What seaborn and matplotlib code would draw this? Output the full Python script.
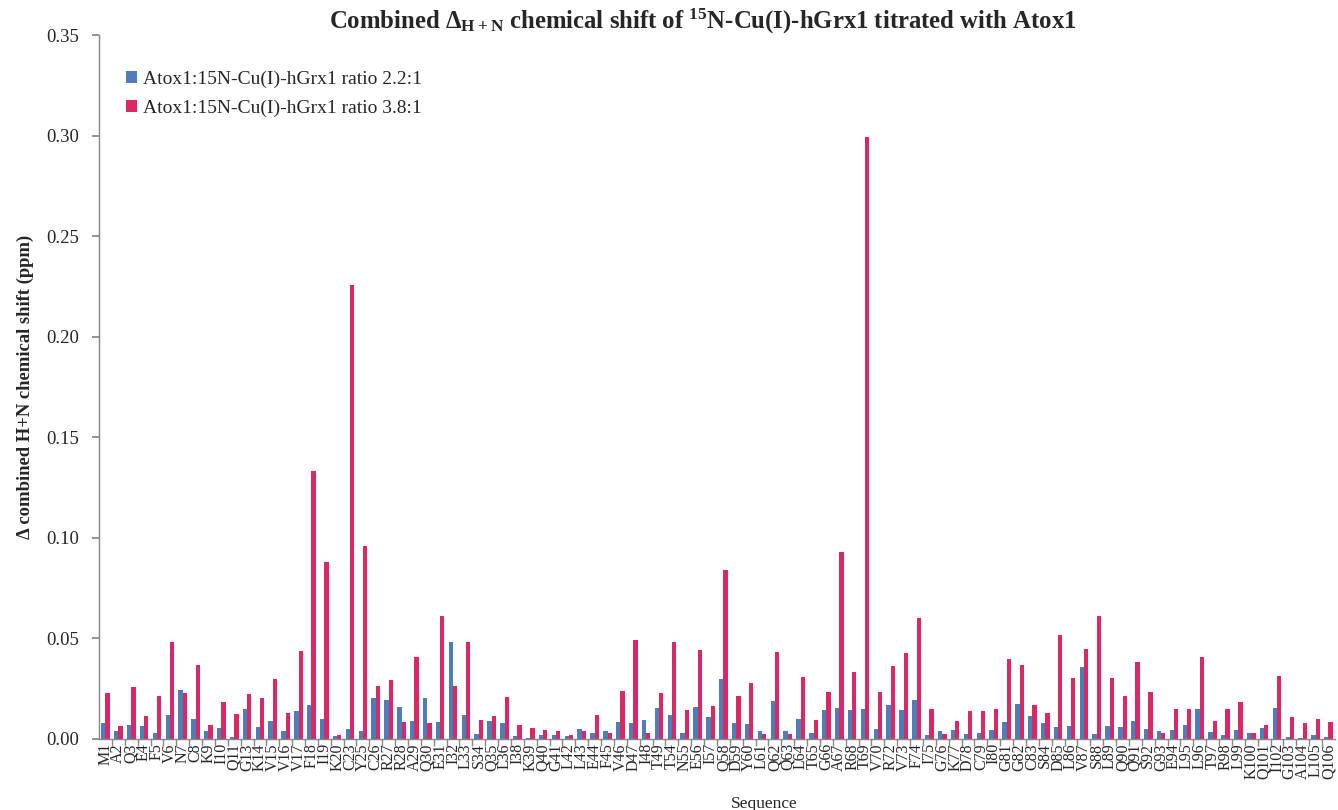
import matplotlib
matplotlib.use("Agg")
import matplotlib.pyplot as plt
import numpy as np
import pandas as pd
import seaborn as sns
from matplotlib.ticker import FixedLocator, FormatStrFormatter

residues = ["M1", "A2", "Q3", "E4", "F5", "V6", "N7", "C8", "K9", "I10",
            "Q11", "G13", "K14", "V15", "V16", "V17", "F18", "I19", "K20", "C23",
            "Y25", "C26", "R27", "R28", "A29", "Q30", "E31", "I32", "L33", "S34",
            "Q35", "L36", "I38", "K39", "Q40", "G41", "L42", "L43", "E44", "F45",
            "V46", "D47", "I48", "T49", "T54", "N55", "E56", "I57", "Q58", "D59",
            "Y60", "L61", "Q62", "Q63", "L64", "T65", "G66", "A67", "R68", "T69",
            "V70", "R72", "V73", "F74", "I75", "G76", "K77", "D78", "C79", "I80",
            "G81", "G82", "C83", "S84", "D85", "L86", "V87", "S88", "L89", "Q90",
            "Q91", "S92", "G93", "E94", "L95", "L96", "T97", "R98", "L99", "K100",
            "Q101", "I102", "G103", "A104", "L105", "Q106"]

ratio_2_2 = [0.0078, 0.0040, 0.0067, 0.0062, 0.0030, 0.0120, 0.0245, 0.0100, 0.0038, 0.0053,
             0.0010, 0.0148, 0.0060, 0.0090, 0.0040, 0.0140, 0.0170, 0.0100, 0.0015, 0.0050,
             0.0038, 0.0203, 0.0193, 0.0160, 0.0090, 0.0205, 0.0085, 0.0480, 0.0118, 0.0027,
             0.0087, 0.0080, 0.0015, 0.0005, 0.0018, 0.0020, 0.0015, 0.0050, 0.0030, 0.0040,
             0.0082, 0.0078, 0.0092, 0.0153, 0.0120, 0.0030, 0.0160, 0.0108, 0.0300, 0.0080,
             0.0075, 0.0038, 0.0190, 0.0038, 0.0100, 0.0032, 0.0143, 0.0152, 0.0145, 0.0150,
             0.0050, 0.0168, 0.0142, 0.0193, 0.0018, 0.0040, 0.0045, 0.0023, 0.0030, 0.0043,
             0.0085, 0.0172, 0.0115, 0.0078, 0.0060, 0.0065, 0.0358, 0.0027, 0.0065, 0.0057,
             0.0088, 0.0050, 0.0040, 0.0043, 0.0070, 0.0150, 0.0033, 0.0020, 0.0047, 0.0030,
             0.0053, 0.0153, 0.0010, 0.0005, 0.0020, 0.0012]

ratio_3_8 = [0.0228, 0.0065, 0.0260, 0.0113, 0.0215, 0.0483, 0.0228, 0.0370, 0.0067, 0.0185,
             0.0125, 0.0225, 0.0203, 0.0300, 0.0130, 0.0435, 0.1332, 0.0878, 0.0020, 0.2259,
             0.0960, 0.0263, 0.0293, 0.0082, 0.0407, 0.0078, 0.0610, 0.0265, 0.0483, 0.0095,
             0.0113, 0.0210, 0.0068, 0.0053, 0.0047, 0.0040, 0.0020, 0.0038, 0.0120, 0.0030,
             0.0238, 0.0493, 0.0028, 0.0227, 0.0483, 0.0143, 0.0440, 0.0165, 0.0842, 0.0213,
             0.0278, 0.0025, 0.0430, 0.0025, 0.0310, 0.0095, 0.0233, 0.0932, 0.0332, 0.2992,
             0.0235, 0.0365, 0.0427, 0.0600, 0.0150, 0.0025, 0.0090, 0.0140, 0.0138, 0.0150,
             0.0397, 0.0367, 0.0168, 0.0127, 0.0515, 0.0303, 0.0445, 0.0610, 0.0303, 0.0212,
             0.0385, 0.0235, 0.0032, 0.0150, 0.0150, 0.0408, 0.0090, 0.0150, 0.0183, 0.0030,
             0.0070, 0.0315, 0.0110, 0.0077, 0.0097, 0.0085]

series_names = ["Atox1:15N-Cu(I)-hGrx1 ratio 2.2:1", "Atox1:15N-Cu(I)-hGrx1 ratio 3.8:1"]
y_ticks = [0.00, 0.05, 0.10, 0.15, 0.20, 0.25, 0.30, 0.35]

df = pd.DataFrame({
    "Residue": residues * 2,
    "Shift": ratio_2_2 + ratio_3_8,
    "Series": [series_names[0]] * len(residues) + [series_names[1]] * len(residues),
})

sns.set_theme(style="ticks")
plt.rcParams["font.family"] = ["Liberation Serif", "DejaVu Serif"]
plt.rcParams["mathtext.fontset"] = "custom"
plt.rcParams["mathtext.rm"] = "Liberation Serif:bold"
plt.rcParams["mathtext.it"] = "Liberation Serif:bold"
plt.rcParams["mathtext.bf"] = "Liberation Serif:bold"

blue = "#4F7DB8"
red = "#DC2862"
gray = "#868686"

fig = plt.figure(figsize=(13.38, 8.10), dpi=100)
ax = fig.add_axes([0.074, 0.0877, 0.9237, 0.869])

sns.barplot(data=df, x="Residue", y="Shift", hue="Series", order=residues,
            hue_order=series_names, palette=[blue, red], width=0.67,
            linewidth=0, saturation=1, errorbar=None, ax=ax)

ax.set_xlim(-0.5, len(residues) - 0.5)
ax.set_ylim(0, 0.35)
ax.set_yticks(y_ticks)
ax.yaxis.set_major_formatter(FormatStrFormatter("%.2f"))

for s in ["top", "right"]:
    ax.spines[s].set_visible(False)
for s in ["left", "bottom"]:
    ax.spines[s].set_color(gray)
    ax.spines[s].set_linewidth(1.0)

ax.tick_params(axis="y", direction="out", length=5, color=gray, pad=9, labelsize=13.5)
ax.tick_params(axis="x", which="major", length=0, labelrotation=90, labelsize=11.5, pad=3)
ax.xaxis.set_minor_locator(FixedLocator(np.arange(0.5, len(residues) - 0.5, 1)))
ax.tick_params(axis="x", which="minor", direction="out", length=5, color=gray, bottom=True)
for lab in ax.get_xticklabels():
    lab.set_verticalalignment("top")

ax.set_xlabel("Sequence", fontsize=12.5)
ax.xaxis.set_label_coords(0.538, -0.081)
ax.set_ylabel("Δ combined H+N chemical shift (ppm)", fontsize=13.4, fontweight="bold", labelpad=9)

fig.text(0.525, 0.973,
         r"Combined Δ$_{\mathrm{H+N}}$ chemical shift of $^{\mathrm{15}}$N-Cu(I)-hGrx1 titrated with Atox1",
         ha="center", va="center", fontsize=17.8, fontweight="bold")

leg = ax.legend(loc="upper left", bbox_to_anchor=(0.008, 0.974), frameon=False,
                fontsize=14, handlelength=0.55, handleheight=0.55,
                handletextpad=0.3, labelspacing=0.6, title=None)

fig.savefig("out.png", dpi=100)
